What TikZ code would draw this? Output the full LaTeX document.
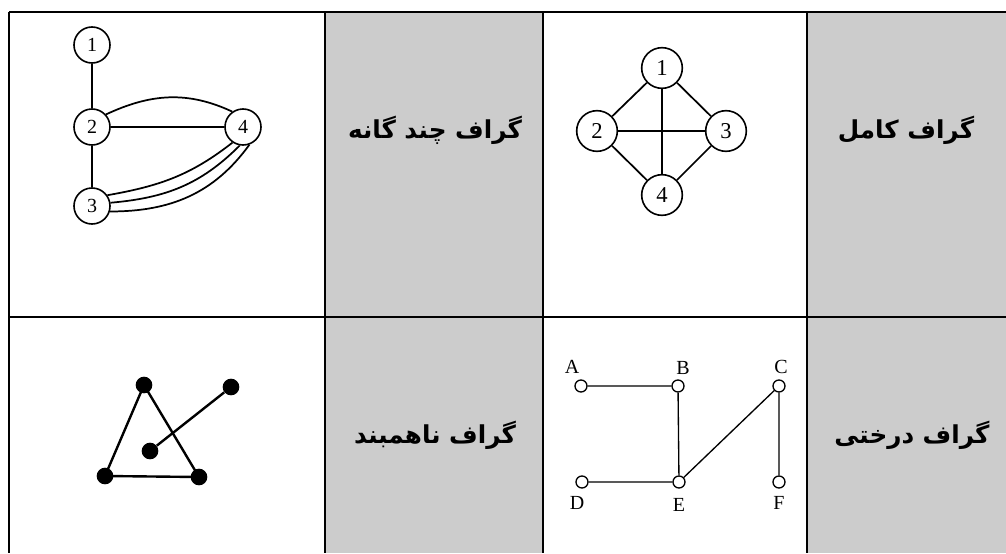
\documentclass[tikz,border=0pt]{standalone}
\usepackage{fontspec}
\setmainfont{Liberation Serif}
\newfontfamily\arabicfont[Script=Arabic]{DejaVu Sans}
\TeXXeTstate=1
\usepackage{xcolor}
\definecolor{cellgray}{HTML}{CCCCCC}
\tikzset{
  rule/.style={line width=1.5pt},
  edge/.style={line width=1.3pt},
  mv/.style={circle,draw,line width=1.2pt,minimum size=27pt,inner sep=0pt,
    font=\fontsize{15}{15}\selectfont},
  kv/.style={circle,draw,line width=1.2pt,minimum size=30.5pt,inner sep=0pt,
    font=\fontsize{17}{17}\selectfont},
  dot/.style={circle,fill,minimum size=12.5pt,inner sep=0pt},
  tv/.style={circle,draw,fill=white,line width=1pt,minimum size=9pt,inner sep=0pt},
  lab/.style={inner sep=0pt,font=\fontsize{15}{15}\selectfont},
  title/.style={inner sep=0pt,font=\fontsize{18.5}{21}\arabicfont\bfseries}}

\begin{document}
\begin{tikzpicture}[x=0.75pt,y=-0.75pt]
  \useasboundingbox (0,0) rectangle (1006,553);
  % shaded cells and rules
  \fill[cellgray] (325,12) rectangle (543,553);
  \fill[cellgray] (807,12) rectangle (1006,553);
  \draw[rule] (9,12) -- (1006,12);
  \draw[rule] (9,317) -- (1006,317);
  \foreach \x in {9,325,543,807}{\draw[rule] (\x,12) -- (\x,553);}
  % titles
  \node[title] (tmulti) at (435,130) {\beginR گراف چند گانه\endR};
  \node[title] (tfull) at (906,130) {\beginR گراف کامل\endR};
  \node[title] (tdisc) at (435,435) {\beginR گراف ناهمبند\endR};
  \node[title] (ttree) at (912,435) {\beginR گراف درختی\endR};
  % multigraph
  \node[mv] (m1) at (92,45) {1};
  \node[mv] (m2) at (92,127) {2};
  \node[mv] (m3) at (92,206) {3};
  \node[mv] (m4) at (243,127) {4};
  \draw[edge] (m1) -- (m2) (m2) -- (m3) (m2) -- (m4);
  \draw[edge] (m2.42) to[out=25,in=155] (m4.125);
  \draw[edge] (m3.35) to[out=10,in=218] (m4.236);
  \draw[edge] (m3.10) to[out=5,in=225] (m4.260);
  \draw[edge] (m3.-17) to[out=0,in=234] (m4.290);
  % complete graph
  \node[kv] (k1) at (662,68) {1};
  \node[kv] (k2) at (597,131) {2};
  \node[kv] (k3) at (726,131) {3};
  \node[kv] (k4) at (662,195) {4};
  \foreach \a/\b in {k1/k2,k1/k3,k1/k4,k2/k3,k2/k4,k3/k4}
    \draw[edge] (\a) -- (\b);
  % disconnected graph
  \node[dot] (d1) at (144,385) {};
  \node[dot] (d2) at (231,387) {};
  \node[dot] (d3) at (150,451) {};
  \node[dot] (d4) at (105,476) {};
  \node[dot] (d5) at (199,477) {};
  \draw[edge,line width=1.8pt] (d1.center) -- (d4.center) -- (d5.center) -- cycle;
  \draw[edge,line width=1.8pt] (d2) -- (d3);
  % tree
  \node[tv] (ta) at (581,386) {};
  \node[tv] (tb) at (678,386) {};
  \node[tv] (tc) at (779,386) {};
  \node[tv] (td) at (582,482) {};
  \node[tv] (te) at (679,482) {};
  \node[tv] (tf) at (779,482) {};
  \draw[edge,line width=1pt] (ta) -- (tb) (tb) -- (te) (td) -- (te)
    (te) -- (tc) (tc) -- (tf);
  \node[lab] (la) at (572,367) {A};
  \node[lab] (lb) at (683,368) {B};
  \node[lab] (lc) at (781,367) {C};
  \node[lab] (ld) at (577,503) {D};
  \node[lab] (le) at (679,505) {E};
  \node[lab] (lf) at (779,503) {F};
\end{tikzpicture}
\end{document}
